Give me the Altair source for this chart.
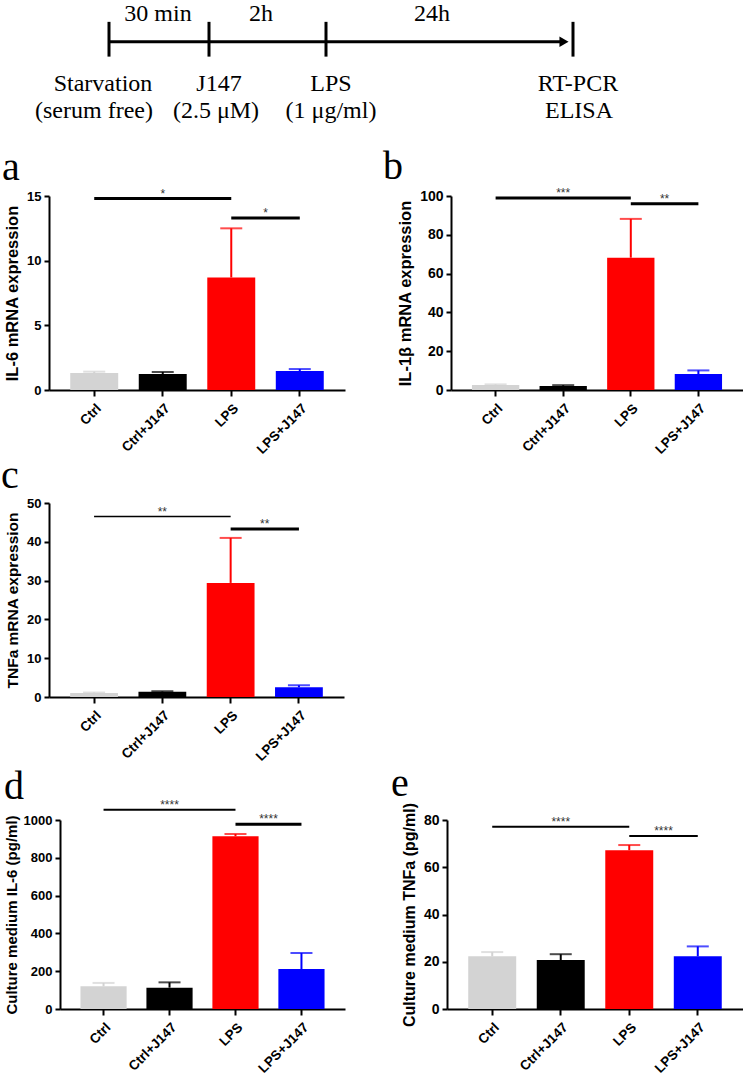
import altair as alt
import pandas as pd

# ---------------- data ----------------
categories = ["Ctrl", "Ctrl+J147", "LPS", "LPS+J147"]
bar_colors = ["#d3d3d3", "#000000", "#ff0000", "#0000ff"]

sig_from = ["Ctrl", "LPS"]
sig_to = ["LPS", "LPS+J147"]

# a: IL-6 mRNA
a_mean = [1.31, 1.24, 8.7, 1.47]
a_err = [0.11, 0.15, 3.8, 0.15]
a_sig = [14.8, 13.3]
a_stars = ["*", "*"]
a_ticks = [0, 5, 10, 15]

# b: IL-1beta mRNA
b_mean = [2.6, 2.1, 68.2, 8.2]
b_err = [0.3, 0.4, 20.0, 1.9]
b_sig = [99.0, 96.0]
b_stars = ["***", "**"]
b_ticks = [0, 20, 40, 60, 80, 100]

# c: TNFa mRNA
c_mean = [1.03, 1.37, 29.4, 2.5]
c_err = [0.12, 0.12, 11.6, 0.5]
c_sig = [46.5, 43.3]
c_stars = ["**", "**"]
c_ticks = [0, 10, 20, 30, 40, 50]

# d: culture medium IL-6
d_mean = [120, 113, 914, 211]
d_err = [18, 28, 12, 85]
d_sig = [1054, 978]
d_stars = ["****", "****"]
d_ticks = [0, 200, 400, 600, 800, 1000]

# e: culture medium TNFa
e_mean = [22.3, 20.7, 67.2, 22.3]
e_err = [1.8, 2.5, 2.2, 4.2]
e_sig = [77.1, 73.2]
e_stars = ["****", "****"]
e_ticks = [0, 20, 40, 60, 80]

# timeline
tl_event_x = [108, 208, 325, 572]
tl_interval_x = [157, 260, 431]
tl_interval_text = ["30 min", "2h", "24h"]
tl_line1_x = [102, 218, 330, 577]
tl_line1_text = ["Starvation", "J147", "LPS", "RT-PCR"]
tl_line2_x = [93, 215, 330, 578]
tl_line2_text = ["(serum free)", "(2.5 \u03bcM)", "(1 \u03bcg/ml)", "ELISA"]

SANS = "Liberation Sans"
SERIF = "Liberation Serif"
P_IN, P_OUT = 0.3, 0.31


def panel(letter, mean, err, sig, stars, sig_w, ticks, ytitle, ytsize, ylsize,
          width, height, title_dx, title_offset, inset=0, ytpad=6):
    df = pd.DataFrame({"cat": categories, "mean": mean, "err": err})
    df["upper"] = df["mean"] + df["err"]
    xscale = alt.Scale(domain=categories, paddingInner=P_IN, paddingOuter=P_OUT,
                       range=[inset, width])
    yscale = alt.Scale(domain=[ticks[0], ticks[-1]], nice=False)
    cscale = alt.Scale(domain=categories, range=bar_colors)
    xaxis = alt.Axis(title=None, labelAngle=-45, labelOverlap=False)
    yaxis = alt.Axis(title=ytitle, values=ticks, tickCount=len(ticks), format="d",
                     titleFontSize=ytsize, labelFontSize=ylsize, offset=-inset,
                     titlePadding=ytpad, labelOverlap=False, labelFlush=False)
    base = alt.Chart(df)
    x = alt.X("cat:N", scale=xscale, axis=xaxis)
    col = alt.Color("cat:N", scale=cscale, legend=None)
    bars = base.mark_bar().encode(
        x=x, y=alt.Y("mean:Q", scale=yscale, axis=yaxis), color=col)
    erule = base.mark_rule(strokeWidth=2).encode(
        x=x, y=alt.Y("mean:Q", scale=yscale, axis=yaxis), y2="upper:Q", color=col)
    ecap = base.mark_tick(orient="horizontal", size=22, thickness=2).encode(
        x=x, y=alt.Y("upper:Q", scale=yscale, axis=yaxis), color=col)

    sdf = pd.DataFrame({"from": sig_from, "to": sig_to, "y": sig,
                        "w": sig_w, "star": stars,
                        "mid": ["Ctrl+J147", "LPS"]})
    lines = alt.Chart(sdf).mark_rule(color="black").encode(
        x=alt.X("from:N", scale=xscale, bandPosition=0.5, axis=xaxis),
        x2=alt.X2("to:N", bandPosition=0.5),
        y=alt.Y("y:Q", scale=yscale, axis=yaxis),
        strokeWidth=alt.StrokeWidth("w:Q", scale=None))
    step = (width - inset) / (len(categories) - P_IN + 2 * P_OUT)
    txt_kw = dict(font=SANS, fontSize=12, color="#333333",
                  baseline="alphabetic", align="center", dy=-1)
    star1 = alt.Chart(sdf.iloc[[0]]).mark_text(**txt_kw).encode(
        x=alt.X("mid:N", scale=xscale, axis=xaxis),
        y=alt.Y("y:Q", scale=yscale, axis=yaxis), text="star:N")
    star2 = alt.Chart(sdf.iloc[[1]]).mark_text(dx=step / 2, **txt_kw).encode(
        x=alt.X("mid:N", scale=xscale, axis=xaxis),
        y=alt.Y("y:Q", scale=yscale, axis=yaxis), text="star:N")
    return alt.layer(bars, erule, ecap, lines, star1, star2).properties(
        width=width, height=height,
        title=alt.TitleParams(text=letter, anchor="start", frame="group",
                              font=SERIF, fontSize=40, fontWeight="normal",
                              color="black", dx=title_dx, offset=title_offset))


pa = panel("a", a_mean, a_err, a_sig, a_stars, [3, 3], a_ticks,
           "IL-6 mRNA expression", 16.5, 13, 296, 194, -47, 0)
pb = panel("b", b_mean, b_err, b_sig, b_stars, [3, 3], b_ticks,
           "IL-1\u03b2 mRNA expression", 16.5, 14, 292, 194, -68, 0)
pc = panel("c", c_mean, c_err, c_sig, c_stars, [1.5, 3], c_ticks,
           "TNFa mRNA expression", 15.5, 13, 295, 194, -48, 1)
pd_ = panel("d", d_mean, d_err, d_sig, d_stars, [2, 3], d_ticks,
            "Culture medium IL-6 (pg/ml)", 15, 13, 296, 189, -45, -8,
            inset=11, ytpad=4)
pe = panel("e", e_mean, e_err, e_sig, e_stars, [2, 2], e_ticks,
           "Culture medium TNFa (pg/ml)", 16, 14, 296, 189, -56, -1)

# ---------------- timeline ----------------
TL_W = 690
tx = alt.Scale(domain=[48, 48 + TL_W], range=[0, TL_W])
ty = alt.Scale(domain=[0, 147], reverse=True)
main_df = pd.DataFrame({"x": [tl_event_x[0]], "x2": [tl_event_x[-1] - 10], "y": [42]})
main_line = alt.Chart(main_df).mark_rule(strokeWidth=3, color="black").encode(
    x=alt.X("x:Q", scale=tx, axis=None), x2="x2:Q",
    y=alt.Y("y:Q", scale=ty, axis=None))
head = alt.Chart(pd.DataFrame({"x": [tl_event_x[-1] - 9], "y": [42]})).mark_point(
    shape="triangle-right", filled=True, size=110, color="black", opacity=1).encode(
    x=alt.X("x:Q", scale=tx, axis=None), y=alt.Y("y:Q", scale=ty, axis=None))
ev_df = pd.DataFrame({"x": tl_event_x, "y1": [22] * 4, "y2": [57] * 4})
ev_ticks = alt.Chart(ev_df).mark_rule(strokeWidth=3, color="black").encode(
    x=alt.X("x:Q", scale=tx, axis=None),
    y=alt.Y("y1:Q", scale=ty, axis=None), y2="y2:Q")
tfont = dict(font=SERIF, fontSize=24, color="black", align="center")
iv = alt.Chart(pd.DataFrame({"x": tl_interval_x, "t": tl_interval_text,
                             "y": [14] * 3})).mark_text(baseline="middle", **tfont).encode(
    x=alt.X("x:Q", scale=tx, axis=None), y=alt.Y("y:Q", scale=ty, axis=None),
    text="t:N")
l1 = alt.Chart(pd.DataFrame({"x": tl_line1_x, "t": tl_line1_text,
                             "y": [92] * 4})).mark_text(baseline="alphabetic", **tfont).encode(
    x=alt.X("x:Q", scale=tx, axis=None), y=alt.Y("y:Q", scale=ty, axis=None),
    text="t:N")
l2 = alt.Chart(pd.DataFrame({"x": tl_line2_x, "t": tl_line2_text,
                             "y": [119] * 4})).mark_text(baseline="alphabetic", **tfont).encode(
    x=alt.X("x:Q", scale=tx, axis=None), y=alt.Y("y:Q", scale=ty, axis=None),
    text="t:N")
timeline = alt.layer(main_line, head, ev_ticks, iv, l1, l2).properties(
    width=TL_W, height=146)

chart = alt.vconcat(
    timeline,
    alt.hconcat(pa, pb, spacing=38),
    pc,
    alt.hconcat(pd_, pe, spacing=46),
    spacing=0,
).properties(
    padding={"left": 1, "top": 0, "right": 0, "bottom": 0}
).configure_view(stroke=None).configure_axis(
    grid=False, domainColor="black", tickColor="black", labelColor="black",
    titleColor="black", domainWidth=2, tickWidth=2, tickSize=5,
    labelFont=SANS, labelFontWeight="bold", labelFontSize=13,
    titleFont=SANS, titleFontWeight="bold", labelPadding=3
).configure_axisX(labelFontSize=13.5, tickSize=6, labelPadding=5)

chart.save("out.html", embed_options={"renderer": "svg", "actions": False})
